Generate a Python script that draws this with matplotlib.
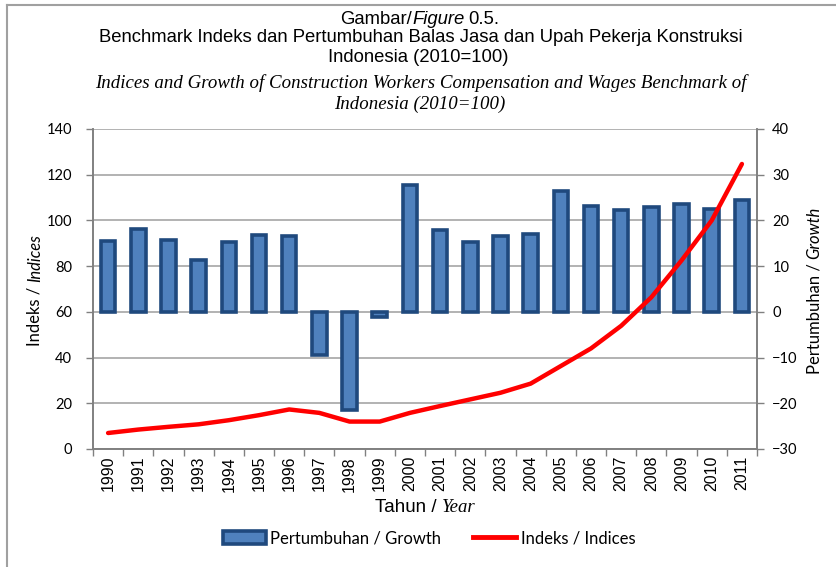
import matplotlib
matplotlib.use("Agg")
import matplotlib.pyplot as plt
import numpy as np
from matplotlib.transforms import IdentityTransform
from matplotlib.lines import Line2D
from matplotlib.patches import Patch

years = [str(y) for y in range(1990, 2012)]
growth = [15.6, 18.2, 15.7, 11.4, 15.2, 16.8, 16.6, -9.5, -21.4, -1.1, 27.8,
          18.0, 15.3, 16.6, 17.1, 26.4, 23.2, 22.3, 22.9, 23.6, 22.6, 24.5]
index = [7.0, 8.5, 9.7, 10.8, 12.6, 14.8, 17.3, 15.8, 12.0, 12.0, 15.8,
         18.8, 21.7, 24.6, 28.6, 36.3, 44.0, 53.9, 66.4, 82.5, 100.0, 124.7]

left_ticks = list(range(0, 141, 20))
right_ticks = list(range(-30, 41, 10))

SANS = ['Liberation Sans', 'DejaVu Sans']
SERIF = ['Liberation Serif', 'DejaVu Serif']
CAL = ['Lato', 'DejaVu Sans']
W, H = 837, 567

fig = plt.figure(figsize=(W / 100, H / 100), dpi=100)
fig.patch.set_facecolor('white')

# frame lines at left and top of the figure
fig.add_artist(Line2D([7 / W, 7 / W], [0, 1 - 5 / H], color='#a0a0a0', lw=1.5))
fig.add_artist(Line2D([7 / W, 1], [1 - 5 / H, 1 - 5 / H], color='#a0a0a0', lw=1.5))

ax = fig.add_axes([93 / W, 1 - 449 / H, 664 / W, 320 / H])
ax2 = ax.twinx()
ax2.set_zorder(1)
ax.set_zorder(2)
ax.patch.set_visible(False)
ax2.patch.set_visible(True)
ax2.patch.set_facecolor('white')

x = np.arange(len(years))
ax2.bar(x, growth, width=0.48, color='#4F81BD', edgecolor='#1F497D',
        linewidth=2.6, zorder=3)
ax2.set_ylim(-30, 40)
ax2.set_yticks(right_ticks)
ax2.grid(axis='y', color='#a6a6a6', lw=1.2, zorder=0)
ax2.set_axisbelow(True)

ax.plot(x, index, color='#ff0000', lw=3.2, solid_capstyle='round', zorder=4)
ax.set_ylim(0, 140)
ax.set_yticks(left_ticks)
ax.set_xlim(-0.5, len(years) - 0.5)

ax.set_xticks(x)
ax.set_xticklabels(years, rotation=90, fontsize=11.5, family=SANS)
ax.set_xticks(np.arange(-0.5, len(years), 1), minor=True)
ax.tick_params(axis='x', which='major', length=0, pad=5)
ax.tick_params(axis='x', which='minor', length=5, color='#808080', width=1)

for a in (ax, ax2):
    for s in a.spines.values():
        s.set_color('#808080')
        s.set_linewidth(1.2)
    a.spines['top'].set_visible(False)
    a.tick_params(axis='y', length=5, color='#808080', width=1, labelsize=10.5)
    for lbl in a.get_yticklabels():
        lbl.set_family(CAL)
ax.tick_params(axis='y', pad=10)
ax2.tick_params(axis='y', pad=6)

fig.canvas.draw()
renderer = fig.canvas.get_renderer()


def rich(xp, yp, parts, rotation=0, gap=0):
    objs = []
    for s, kw in parts:
        t = fig.text(0, 0, s, transform=IdentityTransform(), rotation=rotation,
                     rotation_mode='anchor', ha='left', va='center', **kw)
        objs.append(t)
    sizes = []
    for t in objs:
        bb = t.get_window_extent(renderer)
        sizes.append(bb.width if rotation == 0 else bb.height)
    total = sum(sizes) + gap * (len(objs) - 1)
    pos = -total / 2
    for t, s in zip(objs, sizes):
        if rotation == 0:
            t.set_position((xp + pos, H - yp))
        else:
            t.set_position((xp, H - yp + pos))
        pos += s + gap


tf = dict(family=SANS, fontsize=13.3)
tfi = dict(family=SANS, fontsize=13.3, style='italic')
rich(418, 19, [("Gambar/", tf), ("Figure", tfi), ("0.5.", tf)], gap=0)
fig.texts[-1].set_x(fig.texts[-1].get_position()[0] + 4)
fig.text(421 / W, 1 - 38 / H,
         "Benchmark Indeks dan Pertumbuhan Balas Jasa dan Upah Pekerja Konstruksi",
         ha='center', va='center', **tf)
fig.text(418 / W, 1 - 58 / H, "Indonesia (2010=100)", ha='center', va='center', **tf)
sf = dict(family=SERIF, fontsize=13.6, style='italic')
fig.text(421 / W, 1 - 83 / H,
         "Indices and Growth of Construction Workers Compensation and Wages Benchmark of",
         ha='center', va='center', **sf)
fig.text(420 / W, 1 - 104 / H, "Indonesia (2010=100)", ha='center', va='center', **sf)

rich(425, 508, [("Tahun /", dict(family=SANS, fontsize=13.5)),
                ("Year", dict(family=SERIF, fontsize=13.5, style='italic'))], gap=5)

cf = dict(family=CAL, fontsize=12)
cfi = dict(family=CAL, fontsize=12, style='italic')
rich(35, 290, [("Indeks /", cf), ("Indices", cfi)], rotation=90, gap=4)
rich(814, 290, [("Pertumbuhan /", cf), ("Growth", cfi)], rotation=90, gap=4)

handles = [Patch(facecolor='#4F81BD', edgecolor='#1F497D', linewidth=2.6),
           Line2D([0], [0], color='#ff0000', lw=3.5)]
fig.legend(handles, ["Pertumbuhan / Growth", "Indeks / Indices"],
           loc='center', bbox_to_anchor=(429 / W, 1 - 538 / H), ncol=2,
           frameon=False, prop=dict(family=CAL, size=12), handlelength=2.6,
           handleheight=0.8, handletextpad=0.25, columnspacing=1.9)

fig.savefig('out.png', dpi=100)
